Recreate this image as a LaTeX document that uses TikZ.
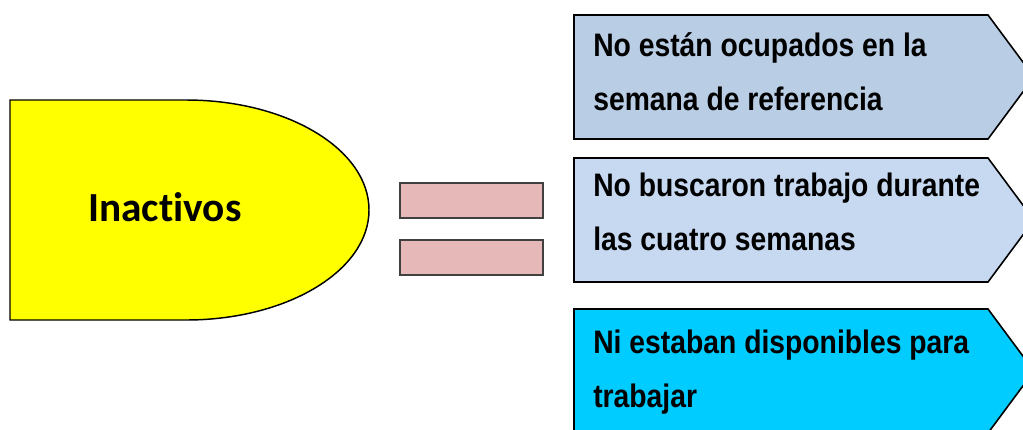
\documentclass[tikz,border=0pt]{standalone}
\usepackage{fontspec}
\usepackage{xcolor}
\usepackage{tikz}
\usetikzlibrary{positioning}

\newfontfamily\calfont{Carlito}[Ligatures=NoCommon]
\newfontfamily\narrowfont{Liberation Sans}[FakeStretch=0.87]

\definecolor{yelfill}{HTML}{FFFF00}
\definecolor{pinkfill}{HTML}{E6B9B8}
\definecolor{blueA}{HTML}{B9CDE5}
\definecolor{blueB}{HTML}{C6D9F1}
\definecolor{cyanC}{HTML}{00CCFF}

\begin{document}
\begin{tikzpicture}[
            x=0.75pt, y=-0.75pt,
            yel/.style={draw=black, line width=1.1pt, fill=yelfill},
            eqbar/.style={draw=black!75, line width=0.8pt, fill=pinkfill},
            arrowbox/.style={draw=black, line width=1.2pt, line join=miter},
            boxtxt/.style={font=\narrowfont\bfseries\fontsize{24.4}{40}\selectfont,
            inner sep=0pt, anchor=base west, align=left},
            bigtxt/.style={font=\calfont\bfseries\fontsize{31}{36}\selectfont,
            inner sep=0pt, anchor=base west}
        ]
\useasboundingbox (0,0) rectangle (1023,429);
\clip (0,0) rectangle (1023,429);
% left half-oval
            \draw[yel] (10,100) -- (186,100)
                arc[start angle=-90, end angle=90, x radius=183, y radius=110]
                -- (10,320) -- cycle;
            \node[bigtxt] (inact) at (88,221) {Inactivos};
% equals sign
            \draw[eqbar] (400,183) rectangle (543,218);
            \draw[eqbar] (400,240) rectangle (543,275);
% pentagon boxes
            \draw[arrowbox, fill=blueA] (574,15) -- (988,15) -- (1034,77) -- (988,139) -- (574,139) -- cycle;
            \draw[arrowbox, fill=blueB] (574,158) -- (988,158) -- (1034,220) -- (988,282) -- (574,282) -- cycle;
            \draw[arrowbox, fill=cyanC] (574,309) -- (988,309) -- (1034,371) -- (988,433) -- (574,433) -- cycle;
% text nodes sit on the baseline of their last line
            \node[boxtxt] (ocup) at (593,110) {No están ocupados en la\\semana de referencia};
            \node[boxtxt] (busc) at (593,250) {No buscaron trabajo durante\\las cuatro semanas};
            \node[boxtxt] (disp) at (593,407) {Ni estaban disponibles para\\trabajar};
        \end{tikzpicture}
\end{document}
